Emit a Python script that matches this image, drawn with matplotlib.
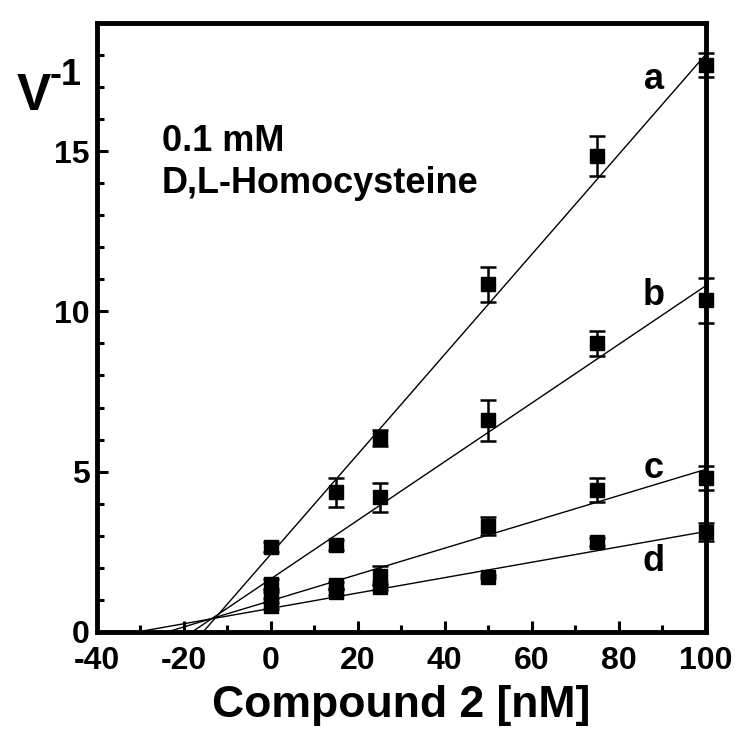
import numpy as np
import matplotlib
matplotlib.use("Agg")
import matplotlib.pyplot as plt
from matplotlib.ticker import MultipleLocator

plt.rcParams['font.family'] = ['Liberation Sans', 'DejaVu Sans']
plt.rcParams['font.weight'] = 'bold'
plt.rcParams['axes.unicode_minus'] = False

# compound 2 concentrations [nM]
conc = [0, 15, 25, 50, 75, 100]

# 1/v values and error bars for the four series
v_a = [2.65, 4.35, 6.05, 10.85, 14.85, 17.7]
e_a = [0.15, 0.45, 0.25, 0.55, 0.62, 0.38]
v_b = [1.5, 2.7, 4.2, 6.6, 9.0, 10.35]
e_b = [0.15, 0.15, 0.45, 0.65, 0.38, 0.7]
v_c = [1.15, 1.45, 1.75, 3.3, 4.43, 4.8]
e_c = [0.1, 0.1, 0.3, 0.28, 0.38, 0.38]
v_d = [0.8, 1.25, 1.4, 1.72, 2.8, 3.1]
e_d = [0.1, 0.1, 0.1, 0.05, 0.12, 0.28]

# fitted lines (slope, intercept)
fit_a = (0.156, 2.42)
fit_b = (0.0915, 1.65)
fit_c = (0.041, 0.97)
fit_d = (0.024, 0.73)

labels = ["a", "b", "c", "d"]
label_y = [17.25, 10.5, 5.1, 2.2]

fig = plt.figure(figsize=(7.5, 7.45), dpi=100)
ax = fig.add_axes([0.129, 0.152, 0.812, 0.817])

series = [(v_a, e_a, fit_a), (v_b, e_b, fit_b), (v_c, e_c, fit_c), (v_d, e_d, fit_d)]
for (v, e, fit), lab, ly in zip(series, labels, label_y):
    m, b = fit
    xx = np.array([-b / m, 100])
    ax.plot(xx, m * xx + b, color="black", lw=1.0, clip_on=False, zorder=3)
    ax.errorbar(conc, v, yerr=e, fmt="s", color="black", ms=9.5, capsize=6,
                elinewidth=1.8, capthick=1.8, clip_on=False, zorder=4)
    ax.text(88, ly, lab, fontsize=26, fontweight="bold", ha="center", va="center")

ax.set_xlim(-40, 100)
ax.set_ylim(0, 19)
ax.xaxis.set_major_locator(MultipleLocator(20))
ax.xaxis.set_minor_locator(MultipleLocator(10))
ax.yaxis.set_major_locator(MultipleLocator(5))
ax.yaxis.set_minor_locator(MultipleLocator(1))
ax.tick_params(which="both", direction="in", width=2.2, top=False, right=False,
               labelsize=23)
ax.tick_params(which="major", length=8)
ax.tick_params(axis="x", which="major", pad=10)
ax.tick_params(axis="y", which="major", pad=5)
ax.tick_params(which="minor", length=5)
for sp in ax.spines.values():
    sp.set_linewidth(3.5)
for lbl in ax.get_xticklabels() + ax.get_yticklabels():
    lbl.set_fontweight("bold")

ax.set_xlabel("Compound 2 [nM]", fontsize=32, fontweight="bold", labelpad=7)

# y label "V^-1" placed horizontally at the top left
fig.text(0.022, 0.852, "V", fontsize=37, fontweight="bold", va="baseline", ha="left")
fig.text(0.066, 0.886, "-1", fontsize=26, fontweight="bold", va="baseline", ha="left")

ax.text(-25, 13.7, "0.1 mM\nD,L-Homocysteine", fontsize=26, fontweight="bold",
        va="baseline", ha="left", linespacing=1.25)

fig.savefig("out.png", dpi=100)
